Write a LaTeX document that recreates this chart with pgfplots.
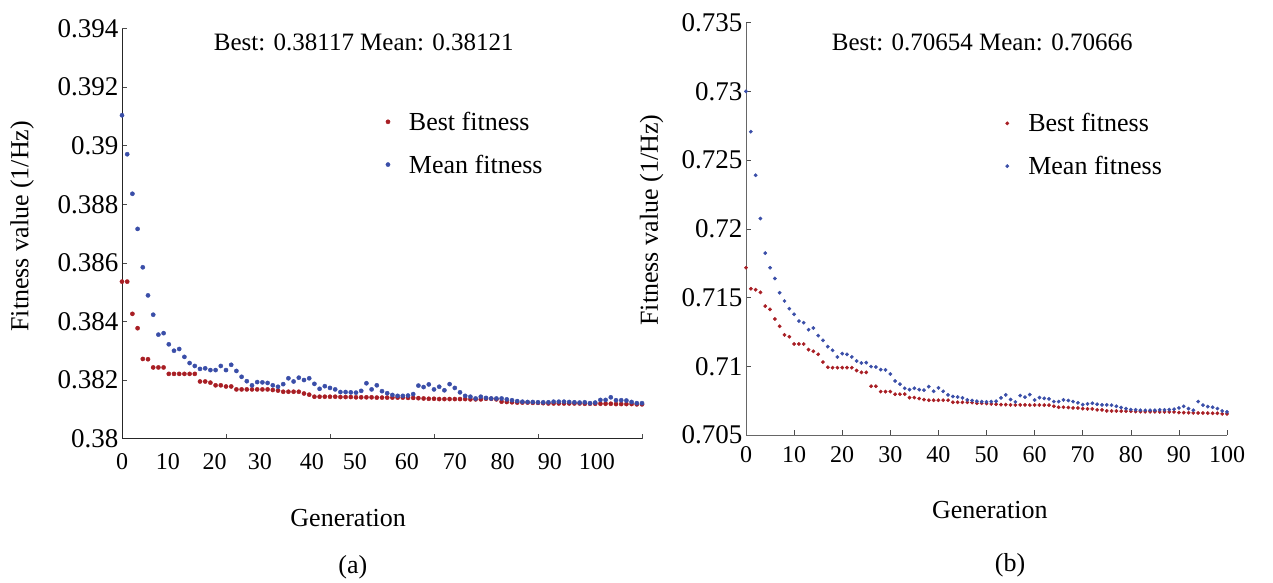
\documentclass[border=0pt]{standalone}
\usepackage{fontspec}
\setmainfont{Liberation Serif}
\usepackage{pgfplots}
\usepackage{pgfplotstable}
\pgfplotsset{compat=1.18}
\definecolor{myred}{RGB}{168,30,36}
\definecolor{myblue}{RGB}{58,78,168}

\pgfplotstableread{
g best mean
0 0.38536 0.39104
1 0.38536 0.38971
2 0.38426 0.38836
3 0.38377 0.38716
4 0.38272 0.38585
5 0.38271 0.38489
6 0.38243 0.38423
7 0.38243 0.38355
8 0.38243 0.38360
9 0.38221 0.38322
10 0.38221 0.38300
11 0.38221 0.38306
12 0.38221 0.38279
13 0.38221 0.38258
14 0.38221 0.38248
15 0.38195 0.38238
16 0.38195 0.38240
17 0.38191 0.38234
18 0.38182 0.38234
19 0.38182 0.38248
20 0.38178 0.38234
21 0.38178 0.38252
22 0.38168 0.38231
23 0.38168 0.38211
24 0.38168 0.38196
25 0.38168 0.38182
26 0.38168 0.38193
27 0.38168 0.38192
28 0.38168 0.38190
29 0.38166 0.38182
30 0.38164 0.38177
31 0.38160 0.38186
32 0.38160 0.38206
33 0.38160 0.38195
34 0.38160 0.38208
35 0.38154 0.38200
36 0.38150 0.38206
37 0.38143 0.38187
38 0.38143 0.38170
39 0.38143 0.38179
40 0.38143 0.38173
41 0.38143 0.38168
42 0.38142 0.38159
43 0.38142 0.38159
44 0.38142 0.38158
45 0.38141 0.38157
46 0.38141 0.38163
47 0.38141 0.38189
48 0.38141 0.38168
49 0.38140 0.38182
50 0.38140 0.38162
51 0.38140 0.38155
52 0.38140 0.38149
53 0.38140 0.38146
54 0.38140 0.38146
55 0.38139 0.38147
56 0.38139 0.38152
57 0.38138 0.38181
58 0.38137 0.38176
59 0.38136 0.38185
60 0.38136 0.38168
61 0.38135 0.38177
62 0.38135 0.38165
63 0.38135 0.38186
64 0.38135 0.38173
65 0.38135 0.38158
66 0.38135 0.38146
67 0.38134 0.38143
68 0.38134 0.38137
69 0.38134 0.38143
70 0.38136 0.38139
71 0.38136 0.38137
72 0.38134 0.38137
73 0.38126 0.38137
74 0.38125 0.38134
75 0.38124 0.38131
76 0.38123 0.38128
77 0.38123 0.38126
78 0.38123 0.38125
79 0.38122 0.38125
80 0.38122 0.38124
81 0.38121 0.38124
82 0.38120 0.38124
83 0.38120 0.38126
84 0.38120 0.38126
85 0.38120 0.38126
86 0.38120 0.38125
87 0.38120 0.38124
88 0.38120 0.38123
89 0.38119 0.38124
90 0.38119 0.38121
91 0.38119 0.38123
92 0.38119 0.38132
93 0.38119 0.38132
94 0.38119 0.38141
95 0.38118 0.38131
96 0.38118 0.38131
97 0.38118 0.38130
98 0.38118 0.38125
99 0.38117 0.38121
100 0.38117 0.38121
}\tablea

\pgfplotstableread{
g best mean
0 0.71717 0.73000
1 0.71564 0.72707
2 0.71557 0.72390
3 0.71538 0.72075
4 0.71438 0.71823
5 0.71414 0.71717
6 0.71344 0.71639
7 0.71291 0.71535
8 0.71228 0.71475
9 0.71215 0.71419
10 0.71162 0.71378
11 0.71162 0.71329
12 0.71162 0.71317
13 0.71121 0.71266
14 0.71109 0.71278
15 0.71087 0.71223
16 0.71031 0.71189
17 0.70993 0.71143
18 0.70990 0.71116
19 0.70990 0.71068
20 0.70990 0.71092
21 0.70990 0.71087
22 0.70990 0.71068
23 0.70969 0.71039
24 0.70956 0.71024
25 0.70956 0.71027
26 0.70855 0.70998
27 0.70855 0.70995
28 0.70816 0.70976
29 0.70816 0.70974
30 0.70816 0.70944
31 0.70797 0.70893
32 0.70797 0.70870
33 0.70797 0.70840
34 0.70772 0.70830
35 0.70772 0.70840
36 0.70765 0.70830
37 0.70758 0.70826
38 0.70753 0.70852
39 0.70753 0.70818
40 0.70753 0.70843
41 0.70753 0.70818
42 0.70753 0.70792
43 0.70738 0.70780
44 0.70738 0.70777
45 0.70738 0.70770
46 0.70738 0.70755
47 0.70736 0.70751
48 0.70731 0.70746
49 0.70731 0.70743
50 0.70729 0.70741
51 0.70726 0.70743
52 0.70724 0.70746
53 0.70721 0.70770
54 0.70721 0.70792
55 0.70719 0.70758
56 0.70719 0.70741
57 0.70719 0.70787
58 0.70719 0.70775
59 0.70718 0.70794
60 0.70718 0.70755
61 0.70718 0.70772
62 0.70717 0.70767
63 0.70717 0.70763
64 0.70709 0.70743
65 0.70702 0.70743
66 0.70702 0.70755
67 0.70700 0.70751
68 0.70697 0.70743
69 0.70697 0.70734
70 0.70692 0.70721
71 0.70690 0.70726
72 0.70690 0.70731
73 0.70683 0.70724
74 0.70683 0.70719
75 0.70675 0.70719
76 0.70675 0.70717
77 0.70675 0.70709
78 0.70674 0.70700
79 0.70673 0.70692
80 0.70673 0.70685
81 0.70670 0.70683
82 0.70670 0.70680
83 0.70669 0.70680
84 0.70669 0.70680
85 0.70669 0.70680
86 0.70668 0.70683
87 0.70668 0.70683
88 0.70668 0.70685
89 0.70668 0.70688
90 0.70663 0.70697
91 0.70663 0.70709
92 0.70662 0.70692
93 0.70661 0.70680
94 0.70660 0.70743
95 0.70660 0.70717
96 0.70659 0.70707
97 0.70658 0.70702
98 0.70658 0.70692
99 0.70654 0.70675
100 0.70654 0.70668
}\tableb

\begin{document}
\begin{tikzpicture}[font=\fontsize{25bp}{30bp}\selectfont]
\useasboundingbox (0,0) rectangle (1273bp,583bp);
\pgfplotsset{
  myaxis/.style={
    scale only axis,
    clip=false,
    axis x line*=bottom,
    axis y line*=left,
    tick align=inside,
    major tick length=5bp,
    xmin=0, xmax=100,
    tick style={black!70, line width=0.6bp},
    axis line style={line width=0.8bp},
    legend cell align=left,
    legend image code/.code={%
      \draw[##1] plot coordinates {(8bp,0bp)};
      \path[draw=none,fill=none] (0bp,0bp) -- (27bp,0bp);},
    legend style={draw=none, fill=none, anchor=north west,
      row sep=19bp, font=\fontsize{26bp}{31bp}\selectfont},
    yticklabel style={font=\fontsize{27bp}{32bp}\selectfont},
    xticklabel style={font=\fontsize{24bp}{29bp}\selectfont},
  }
}
% (a)
\begin{axis}[myaxis,
  at={(122bp,144.4bp)}, anchor=south west,
  width=520bp, height=410bp,
  axis line style={black!85},
  ymin=0.38, ymax=0.394,
  ytick={0.38,0.382,0.384,0.386,0.388,0.39,0.392,0.394},
  yticklabels={0.38,0.382,0.384,0.386,0.388,0.39,0.392,0.394},
  xtick={0,20,40,60,80,100},
  xticklabels={},
  extra x ticks={0,8.8,17.8,26.5,36.5,44.8,54.8,64,73.2,82.3,91.3},
  extra x tick labels={0,10,20,30,40,50,60,70,80,90,100},
  extra x tick style={major tick length=0pt},
  xticklabel style={yshift=-11bp},
  xlabel={Generation},
  ylabel={Fitness value (1/Hz)},
  xlabel style={at={(axis description cs:0.435,-0.194)}, anchor=center, font=\fontsize{26bp}{31bp}\selectfont},
  ylabel style={at={(axis description cs:-0.192,0.518)}, anchor=center, font=\fontsize{26bp}{31bp}\selectfont},
  legend style={at={(axis description cs:0.490,0.807)}},
]
\addplot[only marks, mark=*, mark size=2.1bp, color=myred] table[x=g, y=best] {\tablea};
\addplot[only marks, mark=*, mark size=2.1bp, color=myblue] table[x=g, y=mean] {\tablea};
\legend{Best fitness, Mean fitness}
\node[anchor=center] at (axis description cs:0.465,0.967) {Best: 0.38117 Mean: 0.38121};
\node[anchor=center, font=\fontsize{26bp}{31bp}\selectfont] at (axis description cs:0.444,-0.313) {(a)};
\end{axis}
% (b)
\begin{axis}[myaxis,
  at={(746bp,148bp)}, anchor=south west,
  width=481bp, height=412.3bp,
  axis line style={black!60},
  ymin=0.705, ymax=0.735,
  ytick={0.705,0.71,0.715,0.72,0.725,0.73,0.735},
  yticklabels={0.705,0.71,0.715,0.72,0.725,0.73,0.735},
  xtick={0,10,...,100},
  xticklabels={0,10,20,30,40,50,60,70,80,90,100},
  xticklabel style={yshift=-8bp},
  xlabel={Generation},
  ylabel={Fitness value (1/Hz)},
  xlabel style={at={(axis description cs:0.507,-0.182)}, anchor=center, font=\fontsize{26bp}{31bp}\selectfont},
  ylabel style={at={(axis description cs:-0.196,0.521)}, anchor=center, font=\fontsize{26bp}{31bp}\selectfont},
  legend style={at={(axis description cs:0.52,0.79)}},
]
\addplot[only marks, mark=*, mark size=1.7bp, color=myred] table[x=g, y=best] {\tableb};
\addplot[only marks, mark=*, mark size=1.7bp, color=myblue] table[x=g, y=mean] {\tableb};
\legend{Best fitness, Mean fitness}
\node[anchor=center] at (axis description cs:0.491,0.953) {Best: 0.70654 Mean: 0.70666};
\node[anchor=center, font=\fontsize{26bp}{31bp}\selectfont] at (axis description cs:0.549,-0.315) {(b)};
\end{axis}
\end{tikzpicture}
\end{document}
